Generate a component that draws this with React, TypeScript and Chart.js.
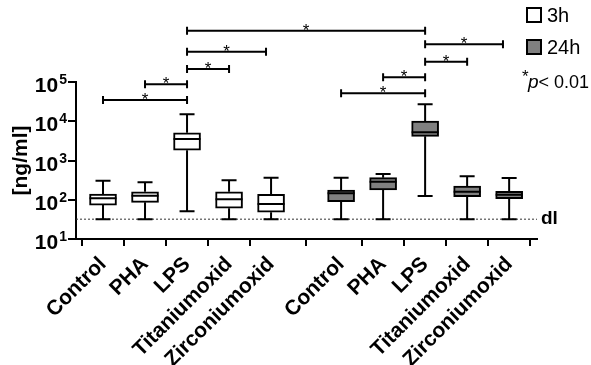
import React, { useEffect, useRef } from 'react';
import { Chart, registerables } from 'chart.js';

Chart.register(...registerables);

// ---- data ----
const categories = ['Control', 'PHA', 'LPS', 'Titaniumoxid', 'Zirconiumoxid', 'Control', 'PHA', 'LPS', 'Titaniumoxid', 'Zirconiumoxid'];
const positions3h = [0, 1, 2, 3, 4];
const positions24h = [5.667, 6.667, 7.667, 8.667, 9.667];
const seriesNames = ['3h', '24h'];

const min3h = [32, 32, 51, 32, 32];
const q1_3h = [73, 86, 1820, 61, 48];
const med3h = [109, 127, 3530, 103, 78];
const q3_3h = [140, 160, 5100, 160, 138];
const max3h = [306, 279, 15000, 313, 365];

const min24h = [32, 32, 125, 32, 32];
const q1_24h = [89, 177, 4130, 120, 106];
const med24h = [146, 288, 5230, 160, 135];
const q3_24h = [177, 365, 10100, 224, 164];
const max24h = [365, 453, 27000, 395, 358];

const yTicks = [10, 100, 1000, 10000, 100000];
const detectionLimit = 32;
const detectionLabel = 'dl';
const yTitle = '[ng/ml]';
const pLabel = 'p< 0.01';

// significance brackets (x from, x to, level on y scale)
const bracketFrom = [2, 2, 2, 1, 0, 7.667, 7.667, 6.667, 5.667];
const bracketTo = [7.667, 3.88, 3, 2, 2, 9.52, 8.667, 7.667, 7.667];
const bracketLevel = [2.03e6, 5.9e5, 2.14e5, 8.7e4, 3.5e4, 9.1e5, 3.3e5, 1.32e5, 5.15e4];

const FONT = 'Arial, "Liberation Sans", Helvetica, sans-serif';
const GREY = '#808080';

const boxPlugin = {
  id: 'boxExtras',
  beforeDatasetsDraw(chart: any) {
    const { ctx, chartArea, scales } = chart;
    const y = scales.y.getPixelForValue(detectionLimit);
    ctx.save();
    ctx.strokeStyle = '#333';
    ctx.lineWidth = 1;
    ctx.setLineDash([2, 2]);
    ctx.beginPath();
    ctx.moveTo(chartArea.left, y);
    ctx.lineTo(chartArea.right, y);
    ctx.stroke();
    ctx.restore();
  },
  afterDatasetsDraw(chart: any) {
    const { ctx, scales } = chart;
    const xs = scales.x;
    const ys = scales.y;
    const sets = [
      { pos: positions3h, mn: min3h, q1: q1_3h, md: med3h, q3: q3_3h, mx: max3h },
      { pos: positions24h, mn: min24h, q1: q1_24h, md: med24h, q3: q3_24h, mx: max24h },
    ];
    ctx.save();
    ctx.strokeStyle = '#000';
    ctx.lineWidth = 2;
    const half = 13.5;
    const cap = 7.5;
    sets.forEach((s) => {
      s.pos.forEach((p, i) => {
        const x = xs.getPixelForValue(p);
        const yMin = ys.getPixelForValue(s.mn[i]);
        const yQ1 = ys.getPixelForValue(s.q1[i]);
        const yMd = ys.getPixelForValue(s.md[i]);
        const yQ3 = ys.getPixelForValue(s.q3[i]);
        const yMax = ys.getPixelForValue(s.mx[i]);
        ctx.beginPath();
        ctx.moveTo(x, yQ3); ctx.lineTo(x, yMax);
        ctx.moveTo(x, yQ1); ctx.lineTo(x, yMin);
        ctx.moveTo(x - cap, yMax); ctx.lineTo(x + cap, yMax);
        ctx.moveTo(x - cap, yMin); ctx.lineTo(x + cap, yMin);
        ctx.moveTo(x - half, yMd); ctx.lineTo(x + half, yMd);
        ctx.stroke();
      });
    });
    ctx.restore();
  },
  afterDraw(chart: any) {
    const { ctx, scales, chartArea } = chart;
    const xs = scales.x;
    const ys = scales.y;
    ctx.save();
    ctx.strokeStyle = '#000';
    ctx.fillStyle = '#000';
    ctx.lineWidth = 2;
    // y tick labels: 10 with superscript exponent
    const right = chartArea.left - 9;
    ys.ticks.forEach((t: any) => {
      const ty = ys.getPixelForValue(t.value);
      const exp = String(Math.round(Math.log10(t.value)));
      ctx.font = `bold 14px ${FONT}`;
      ctx.textAlign = 'right';
      ctx.textBaseline = 'alphabetic';
      ctx.fillText(exp, right, ty + 2);
      const ew = ctx.measureText(exp).width;
      ctx.font = `bold 21px ${FONT}`;
      ctx.fillText('10', right - ew - 1, ty + 10);
    });
    // brackets
    bracketFrom.forEach((f, i) => {
      const x1 = xs.getPixelForValue(f);
      const x2 = xs.getPixelForValue(bracketTo[i]);
      const y = ys.getPixelForValue(bracketLevel[i]);
      ctx.beginPath();
      ctx.moveTo(x1, y); ctx.lineTo(x2, y);
      ctx.moveTo(x1, y - 4); ctx.lineTo(x1, y + 4);
      ctx.moveTo(x2, y - 4); ctx.lineTo(x2, y + 4);
      ctx.stroke();
      ctx.font = `17px ${FONT}`;
      ctx.textAlign = 'center';
      ctx.textBaseline = 'alphabetic';
      ctx.fillText('*', (x1 + x2) / 2, y + 5);
    });
    // dl label
    const yd = ys.getPixelForValue(detectionLimit);
    ctx.font = `bold 19px ${FONT}`;
    ctx.textAlign = 'left';
    ctx.textBaseline = 'middle';
    ctx.fillText(detectionLabel, chartArea.right + 4, yd);
    // legend
    const lx = 527;
    const fills = ['#fff', GREY];
    const ly = [15, 47];
    seriesNames.forEach((n, i) => {
      ctx.fillStyle = fills[i];
      ctx.fillRect(lx, ly[i] - 7, 14, 14);
      ctx.strokeRect(lx, ly[i] - 7, 14, 14);
      ctx.fillStyle = '#000';
      ctx.font = `20px ${FONT}`;
      ctx.textAlign = 'left';
      ctx.textBaseline = 'middle';
      ctx.fillText(n, lx + 20, ly[i] + 1);
    });
    ctx.font = `17px ${FONT}`;
    ctx.textBaseline = 'alphabetic';
    ctx.fillText('*', lx - 5, 82);
    ctx.font = `italic 19px ${FONT}`;
    ctx.fillText('p', lx + 1, 88);
    const pw = ctx.measureText('p').width;
    ctx.font = `18px ${FONT}`;
    ctx.fillText(pLabel.slice(1), lx + 1 + pw, 88);
    ctx.restore();
  },
};

export default function App() {
  const ref = useRef<HTMLCanvasElement>(null);
  useEffect(() => {
    if (!ref.current) return;
    const chart = new Chart(ref.current, {
      type: 'bar',
      data: {
        datasets: [
          {
            label: seriesNames[0],
            data: positions3h.map((x, i) => ({ x, y: [q1_3h[i], q3_3h[i]] })) as any,
            backgroundColor: '#fff',
            borderColor: '#000',
            borderWidth: 2,
            borderSkipped: false,
            barThickness: 27,
            grouped: false,
          } as any,
          {
            label: seriesNames[1],
            data: positions24h.map((x, i) => ({ x, y: [q1_24h[i], q3_24h[i]] })) as any,
            backgroundColor: GREY,
            borderColor: '#000',
            borderWidth: 2,
            borderSkipped: false,
            barThickness: 27,
            grouped: false,
          } as any,
        ],
      },
      options: {
        responsive: false,
        maintainAspectRatio: false,
        animation: false,
        layout: { padding: { top: 82, right: 54, left: 0, bottom: 0 } },
        plugins: { legend: { display: false }, tooltip: { enabled: false } },
        scales: {
          x: {
            type: 'linear',
            min: -0.643,
            max: 10.33,
            offset: false,
            afterBuildTicks: (s: any) => {
              s.ticks = [...positions3h, ...positions24h].map((v) => ({ value: v }));
            },
            afterFit: (s: any) => { s.height = 126; },
            ticks: {
              autoSkip: false,
              minRotation: 45,
              maxRotation: 45,
              color: '#000',
              padding: 6,
              font: { family: FONT, size: 21, weight: 'bold' },
              callback: (_v: any, i: number) => categories[i],
            },
            grid: { drawOnChartArea: false, drawTicks: true, tickLength: 7, color: '#000', lineWidth: 2 },
            border: { display: true, color: '#000', width: 2 },
          },
          y: {
            type: 'logarithmic',
            min: 10,
            max: 100000,
            afterBuildTicks: (s: any) => {
              s.ticks = yTicks.map((v) => ({ value: v, major: true }));
            },
            afterFit: (s: any) => { s.width = 76; },
            ticks: { display: false },
            title: {
              display: true,
              text: yTitle,
              color: '#000',
              font: { family: FONT, size: 21, weight: 'bold' },
              padding: { top: 9, bottom: 0 },
            },
            grid: { drawOnChartArea: false, drawTicks: true, tickLength: 8, color: '#000', lineWidth: 2 },
            border: { display: true, color: '#000', width: 2 },
          },
        },
      } as any,
      plugins: [boxPlugin],
    });
    return () => chart.destroy();
  }, []);
  return (
    <div style={{ position: 'fixed', left: 0, top: 0, width: 591, height: 365, background: '#fff' }}>
      <canvas ref={ref} width={591} height={365} style={{ width: 591, height: 365 }} />
    </div>
  );
}
